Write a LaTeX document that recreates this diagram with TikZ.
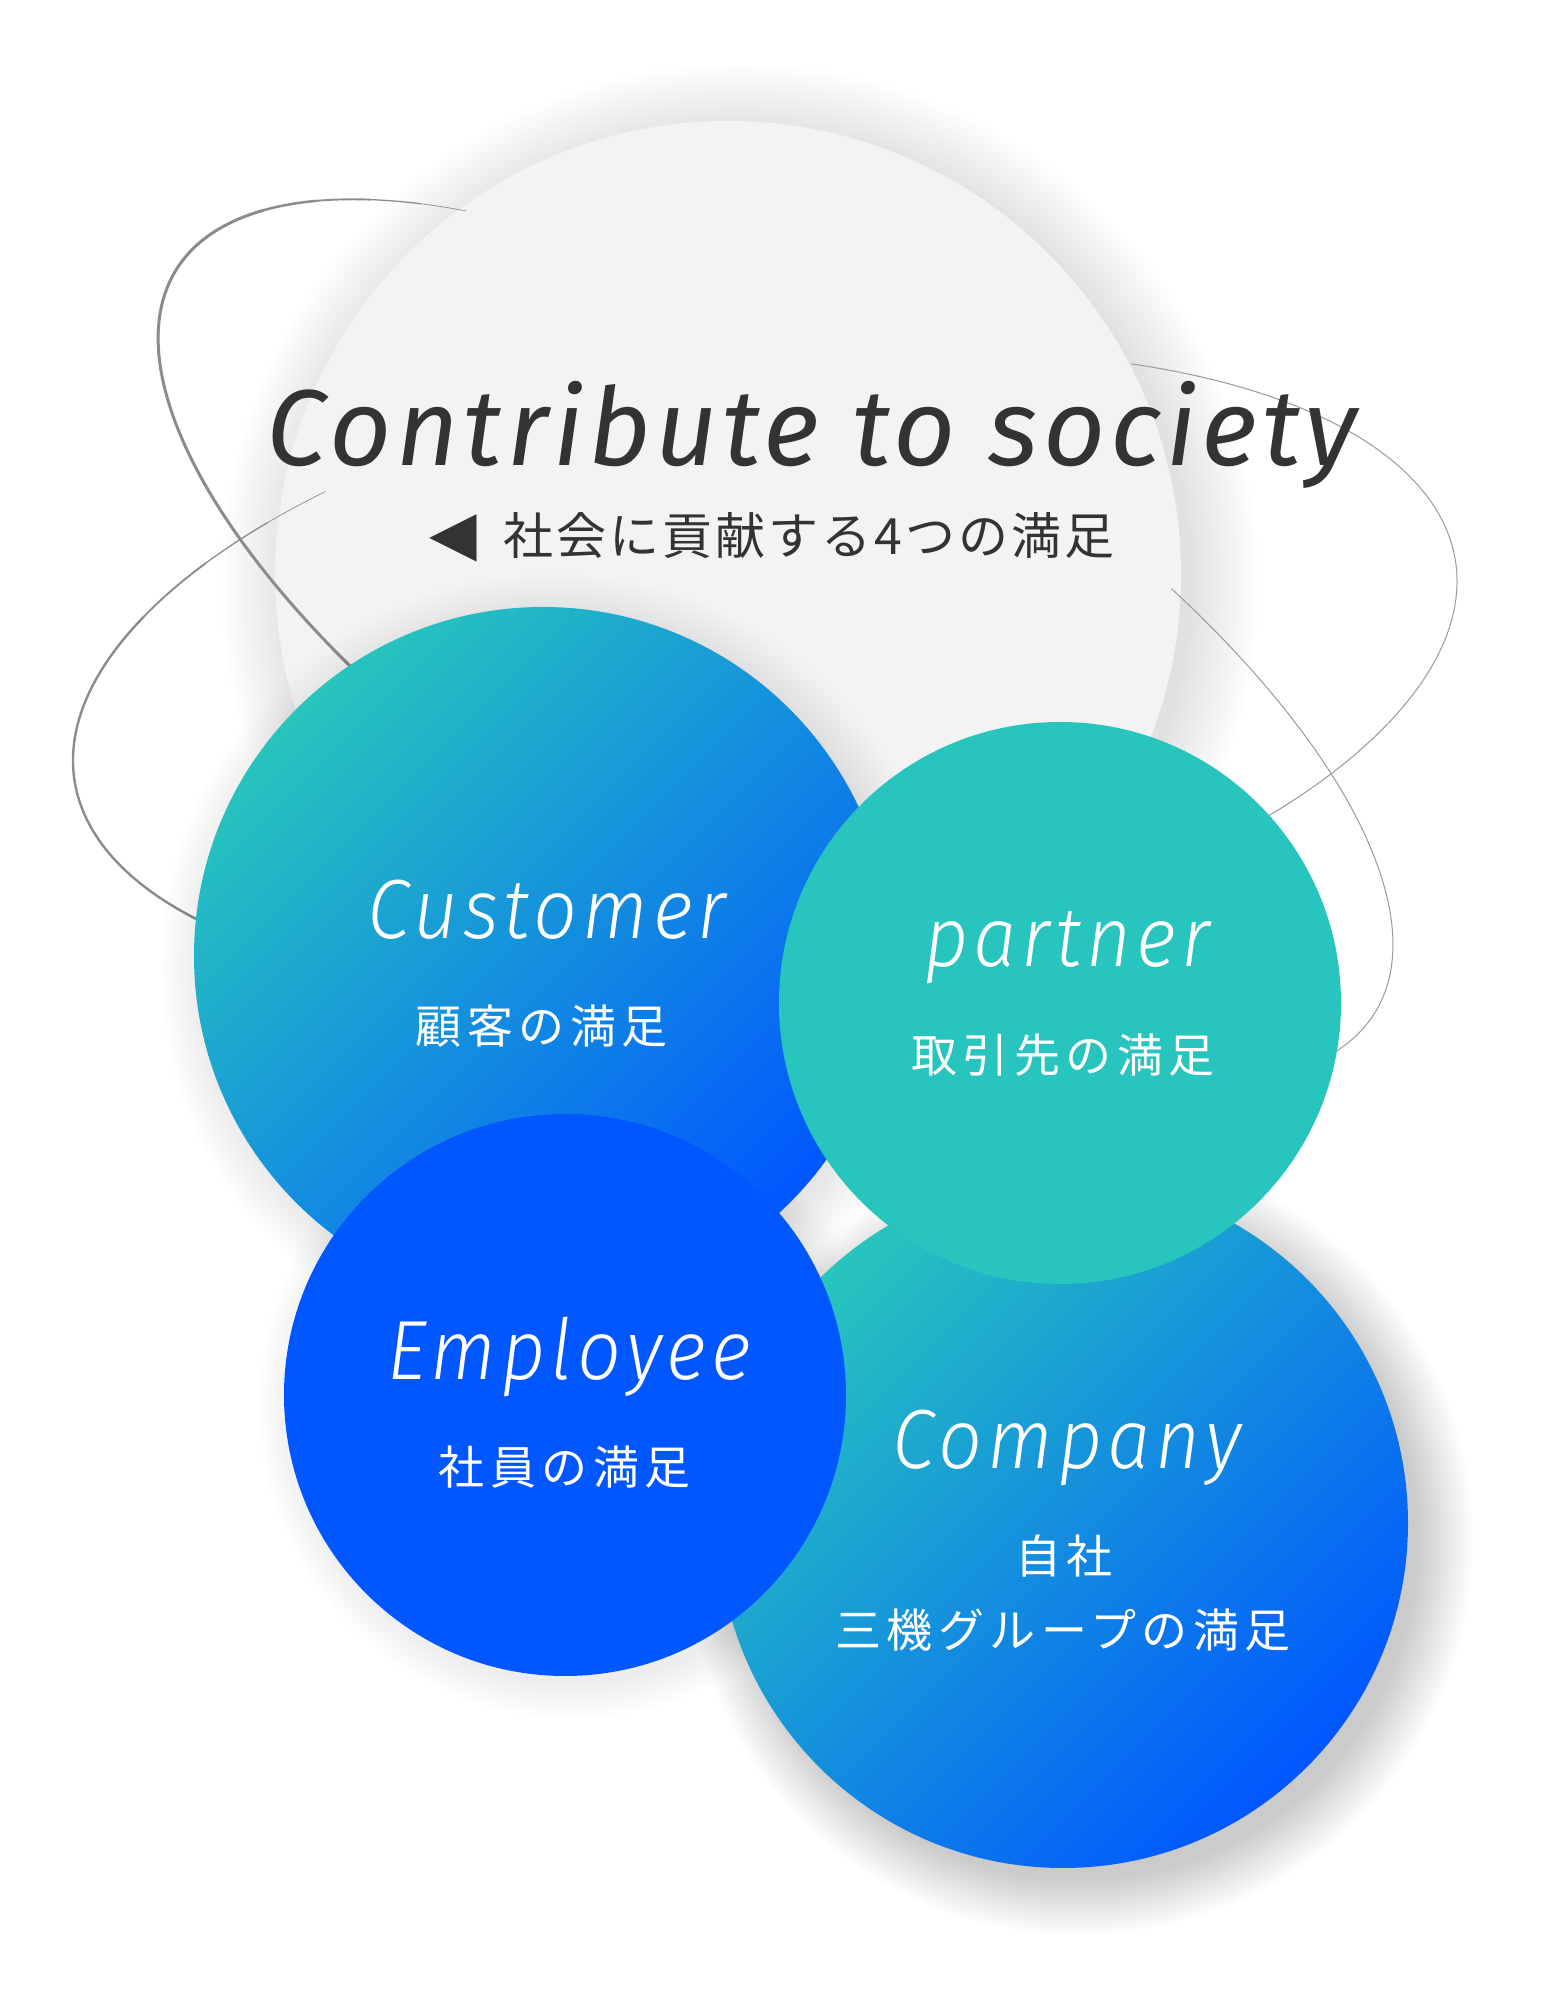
\documentclass[tikz,border=0pt]{standalone}
\usepackage{fontspec}
\newfontfamily\titlefont{Fira Sans}[LetterSpace=4.5]
\newfontfamily\labelfont{Fira Sans Light}[LetterSpace=6, FakeStretch=0.92]
\newfontfamily\jpfont{Noto Sans CJK JP}[LetterSpace=12]
\newfontfamily\subjpfont{Noto Sans CJK JP}[LetterSpace=6]
\newfontfamily\symfont{DejaVu Sans}
\definecolor{tealc}{HTML}{27C5BD}
\definecolor{bluec}{HTML}{0057FF}
\definecolor{graybg}{HTML}{F3F3F3}
\definecolor{titlegray}{HTML}{333333}
\definecolor{ringdark}{HTML}{8C8C8C}
\definecolor{ringlight}{HTML}{9A9A9A}
\begin{document}
\begin{tikzpicture}[x=1pt,y=1pt,
  disc/.style={circle, inner sep=0pt, draw=none},
  gradfill/.style={top color=tealc, bottom color=bluec, shading angle=45},
  entitle/.style={text=white, font=\labelfont\itshape\fontsize{84}{90}\selectfont, anchor=base},
  jptitle/.style={text=white, font=\jpfont\fontsize{46}{50}\selectfont, anchor=center},
  ringA/.style={draw=ringdark, line cap=round},
  ringB/.style={draw=ringdark, line cap=round},
  ringthin/.style={draw=ringlight, line cap=round}]
\fill[white] (0,0) rectangle (1560,2003);
\useasboundingbox (0,0) rectangle (1560,2003);

% soft halo behind the grey globe
\foreach \i in {1,...,30}
  \fill[black, fill opacity=0.0035] (740,1420) circle ({448+2.4*\i});
\node[disc, fill=graybg, minimum size=906pt] (globe) at (728,1429) {};

% orbit A
\begin{scope}[shift={(775.5,1361.6)}, rotate=-31.8]
\foreach \s/\e/\w in {134/139/0.7, 139/145/1.3, 145/152/1.9, 152/160/2.5, 160/300/3.0}
  \draw[ringA, line width=\w pt] (\s:705pt and 282pt) arc[start angle=\s, end angle=\e, x radius=705pt, y radius=282pt];
\draw[ringthin, line width=1pt] (300:705pt and 282pt) arc[start angle=300, end angle=424, x radius=705pt, y radius=282pt];
\end{scope}
% orbit B
\begin{scope}[shift={(765,1332)}, rotate=9.1]
\foreach \s/\e/\w in {125.5/132/0.7, 132/140/1.3, 140/150/1.9, 150/290/2.4}
  \draw[ringB, line width=\w pt] (\s:699pt and 303pt) arc[start angle=\s, end angle=\e, x radius=699pt, y radius=303pt];
\draw[ringthin, line width=1pt] (290:699pt and 303pt) arc[start angle=290, end angle=414, x radius=699pt, y radius=303pt];
\end{scope}

% heading
\node[anchor=base, text=titlegray, font=\titlefont\itshape\fontsize{108}{116}\selectfont] (title) at (812,1537) {Contribute to society};
\node[anchor=center, text=titlegray, font=\subjpfont\fontsize{50}{54}\selectfont] (subtitle) at (772,1466)
  {{\symfont\fontsize{62}{64}\selectfont ◀}\hspace{26pt}社会に貢献する4つの満足};

% shadows of the coloured discs
\foreach \i in {1,...,24}
  \fill[black, fill opacity=0.005] (553,1035) circle ({341+2.2*\i});
\foreach \i in {1,...,26}
  \fill[black, fill opacity=0.009] (1079,462) circle ({337+2.2*\i});
\foreach \i in {1,...,18}
  \fill[black, fill opacity=0.004] (572,598) circle ({275+2.2*\i});

% discs
\node[disc, gradfill, minimum size=698pt] (cust) at (543,1047) {};
\node[disc, gradfill, minimum size=690pt] (comp) at (1063,480) {};
\node[disc, fill=bluec, minimum size=562pt] (empl) at (565,608) {};
\node[disc, fill=tealc, minimum size=562pt] (part) at (1060,1000) {};

% labels
\node[entitle] (custen) at (547,1064) {Customer};
\node[jptitle] (custjp) at (542,977) {顧客の満足};
\node[entitle] (parten) at (1067,1036) {partner};
\node[jptitle] (partjp) at (1063,948) {取引先の満足};
\node[entitle] (emplen) at (569,623) {Employee};
\node[jptitle] (empljp) at (565,536) {社員の満足};
\node[entitle] (compen) at (1067,534) {Company};
\node[jptitle] (compjpa) at (1064,447) {自社};
\node[jptitle] (compjpb) at (1063,373) {三機グループの満足};
\end{tikzpicture}
\end{document}
